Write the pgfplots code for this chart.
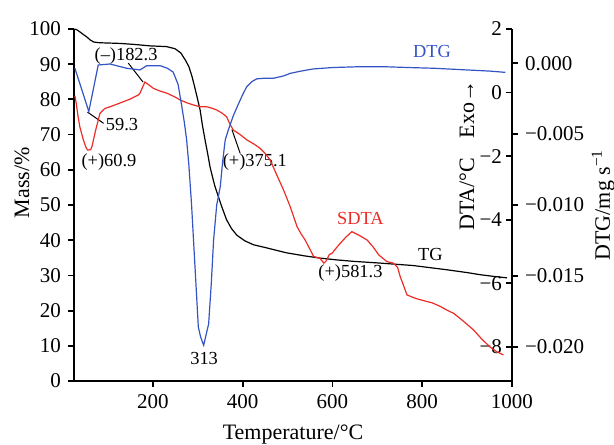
\documentclass[border=0pt]{standalone}
\usepackage{fontspec}
\setmainfont{Liberation Serif}
\usepackage{pgfplots}
\pgfplotsset{compat=1.18}

\definecolor{dtgblue}{RGB}{52,84,196}
\definecolor{dtared}{RGB}{236,44,38}

\pgfplotstableread{
T mass
25 100
30 99.8
37 99.2
45 98.4
52 97.8
60 96.9
68 96.3
80 96.1
104 96.0
127 95.9
160 95.6
194 95.2
230 95.0
249 94.4
262 93.2
272 91.2
280 89.3
287 86.5
292 84.0
298 80.8
305 77.0
310 72.8
316 68.5
322 64.5
327 60.9
333 57.8
338 55.3
346 52.3
353 49.6
364 45.8
375 43.3
387 41.4
405 39.8
424 38.7
454 37.8
498 36.4
540 35.5
573 34.9
610 34.4
646 34.0
706 33.5
780 32.8
855 31.6
900 30.8
929 30.2
960 29.7
989 29.3
}\tgdata

\pgfplotstableread{
T dtg
26 -0.00035
57 -0.0034
78 -0.00012
104 -0.00005
141 -0.00035
171 -0.00047
186 -0.00017
216 -0.00017
232 -0.00035
245 -0.00062
256 -0.0015
264 -0.0030
270 -0.0042
275 -0.0054
280 -0.0072
286 -0.0100
293 -0.0140
301 -0.0186
306 -0.0193
313 -0.0199
318 -0.0192
324 -0.0184
330 -0.0155
335 -0.0125
342 -0.0100
350 -0.0087
355 -0.0070
361 -0.0054
368 -0.0047
379 -0.0037
390 -0.0029
400 -0.0022
409 -0.00165
420 -0.0013
431 -0.0011
450 -0.00105
468 -0.00106
490 -0.0009
506 -0.00071
530 -0.00055
557 -0.0004
600 -0.0003
662 -0.00024
713 -0.00024
770 -0.0003
825 -0.00035
900 -0.00047
950 -0.00055
985 -0.00064
}\dtgdata

\pgfplotstableread{
T dta
26 -0.1
29 -0.34
33 -0.75
37 -1.08
45 -1.5
50 -1.7
54 -1.81
61 -1.80
64 -1.70
72 -1.2
82 -0.65
93 -0.5
104 -0.45
134 -0.29
150 -0.2
167 -0.08
171 -0.02
182 0.33
190 0.25
201 0.13
215 0.05
231 -0.02
249 -0.14
260 -0.23
275 -0.32
290 -0.39
305 -0.45
320 -0.45
331 -0.49
342 -0.55
354 -0.65
364 -0.76
371 -0.98
379 -1.18
394 -1.32
409 -1.49
425 -1.62
439 -1.76
450 -1.92
461 -2.12
476 -2.6
491 -3.07
506 -3.6
521 -4.22
530 -4.45
539 -4.64
558 -5.16
572 -5.22
581 -5.37
586 -5.3
593 -5.1
599 -5.06
608 -4.9
617 -4.75
630 -4.55
643 -4.38
660 -4.5
677 -4.64
690 -4.85
703 -5.11
721 -5.32
736 -5.37
745 -5.5
751 -5.80
759 -6.1
766 -6.37
785 -6.48
803 -6.55
822 -6.62
840 -6.73
855 -6.85
870 -6.95
892 -7.2
914 -7.47
932 -7.75
951 -8.01
965 -8.15
981 -8.26
}\dtadata

\pgfplotsset{
  base/.style={
    width=219pt, height=176pt, scale only axis,
    at={(0,0)}, anchor=south west,
    xmin=24, xmax=1000,
    major tick length=3pt,
    axis line style={line width=0.9pt},
    every tick/.style={line width=0.9pt, black},
    tick label style={font=\fontsize{10.5}{12}\selectfont},
    /pgf/number format/assume math mode=true,
    /pgf/number format/1000 sep={},
    scaled y ticks=false,
    clip=false,
  },
}

\begin{document}
\begin{tikzpicture}
\path[use as bounding box] (-37pt,-31.5pt) rectangle (270pt,190.5pt);

% mass axis, TG
\begin{axis}[base,
  ymin=0, ymax=100,
  axis x line*=bottom, axis y line*=left,
  xtick={200,400,600,800,1000},
  ytick={0,10,...,100},
  tick align=outside,
]
\addplot[black, line width=0.6pt] table[x=T,y=mass] {\tgdata};
\begin{scope}[font=\fontsize{9.2}{11}\selectfont]
\node[dtgblue] at (axis cs:822,93.5) {DTG};
\node at (axis cs:140,92.3) {(–)182.3};
\draw[black, line width=0.5pt] (axis cs:145,90.3) -- (axis cs:178,84.9);
\node at (axis cs:131,72.8) {59.3};
\draw[black, line width=0.5pt] (axis cs:54,76.4) -- (axis cs:90,73.2);
\node at (axis cs:102,62.1) {(+)60.9};
\node at (axis cs:427,62.1) {(+)375.1};
\draw[black, line width=0.5pt] (axis cs:376,71.4) -- (axis cs:394,64.8);
\node at (axis cs:314,6.5) {313};
\node[dtared] at (axis cs:662,46.3) {SDTA};
\node at (axis cs:818,35.9) {TG};
\node at (axis cs:640,30.8) {(+)581.3};
\end{scope}
\end{axis}

% DTA axis
\begin{axis}[base,
  ymin=-9.08, ymax=2,
  hide x axis,
  axis y line*=right,
  ytick={-8,-6,-4,-2,0,2},
  yticklabels={−8,−6,−4,−2,0,2},
  tick align=inside,
  yticklabel style={anchor=east, xshift=-1.5pt},
]
\addplot[dtared, line width=0.6pt] table[x=T,y=dta] {\dtadata};
\end{axis}

% DTG axis
\begin{axis}[base,
  ymin=-0.02242, ymax=0.00242,
  hide x axis,
  axis y line*=right,
  ytick={-0.02,-0.015,-0.01,-0.005,0},
  yticklabels={−0.020,−0.015,−0.010,−0.005,0.000},
  tick align=outside,
]
\addplot[dtgblue, line width=0.6pt] table[x=T,y=dtg] {\dtgdata};
\begin{scope}[font=\fontsize{11}{13}\selectfont]
\node[rotate=90] at (rel axis cs:-0.119,0.563) {Mass/\%};
\node at (rel axis cs:0.5,-0.152) {Temperature/°C};
\node[rotate=90] at (rel axis cs:0.897,0.640) {DTA/°C\hspace{0.9em}Exo→};
\node[rotate=90] at (rel axis cs:1.208,0.5) {DTG/mg s\textsuperscript{−1}};
\end{scope}
\end{axis}
\end{tikzpicture}
\end{document}
